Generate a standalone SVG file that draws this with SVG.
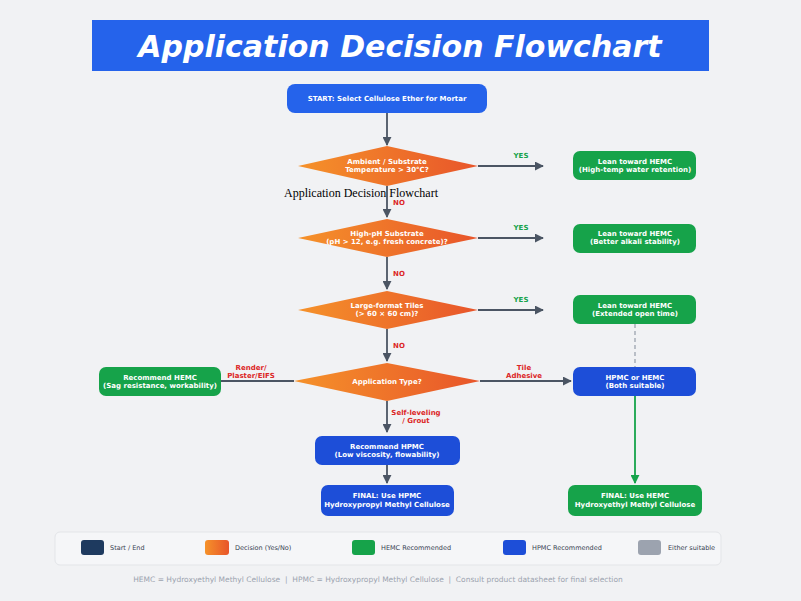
<svg xmlns="http://www.w3.org/2000/svg" width="801" height="601" viewBox="0 0 801 601">
<style>
text{font-family:"DejaVu Sans","Liberation Sans",sans-serif}
.nt{fill:#fff;font-size:7px;font-weight:bold;text-anchor:middle}
.g{fill:#16A34A}.b{fill:#1D4ED8}
.yes{fill:#16A34A;font-size:7px;font-weight:bold;text-anchor:middle}
.no{fill:#DC2626;font-size:7px;font-weight:bold;text-anchor:middle}
.ln{stroke:#4B5563;stroke-width:1.8;fill:none}
.lg{font-size:6.5px;fill:#374151}
</style>
<defs>
<linearGradient id="og" x1="0" x2="1"><stop offset="0" stop-color="#F5922A"/><stop offset="1" stop-color="#E8552A"/></linearGradient>
<marker id="ah" viewBox="0 0 10 10" refX="9" refY="5" markerWidth="5" markerHeight="5" orient="auto"><path d="M0,0L10,5L0,10z" fill="#4B5563"/></marker>
<marker id="ahg" viewBox="0 0 10 10" refX="9" refY="5" markerWidth="5" markerHeight="5" orient="auto"><path d="M0,0L10,5L0,10z" fill="#16A34A"/></marker>
</defs>
<rect width="801" height="601" fill="#F1F2F4"/>
<rect x="92" y="20" width="617" height="51" fill="#2563EB"/>
<text x="400" y="57" font-size="30" font-weight="bold" font-style="italic" fill="#fff" text-anchor="middle">Application Decision Flowchart</text>
<g id="connectors">
<path class="ln" d="M387,113V145" marker-end="url(#ah)"/>
<path class="ln" d="M387,186V217" marker-end="url(#ah)"/>
<path class="ln" d="M387,257V289" marker-end="url(#ah)"/>
<path class="ln" d="M387,329V361" marker-end="url(#ah)"/>
<path class="ln" d="M387,401V432" marker-end="url(#ah)"/>
<path class="ln" d="M387,465V483" marker-end="url(#ah)"/>
<path class="ln" d="M478,166H543" marker-end="url(#ah)"/>
<path class="ln" d="M478,238H543" marker-end="url(#ah)"/>
<path class="ln" d="M478,310H543" marker-end="url(#ah)"/>
<path class="ln" d="M294,381H208" marker-end="url(#ah)"/>
<path class="ln" d="M480,381H571" marker-end="url(#ah)"/>
<path d="M635,324V367" stroke="#9CA3AF" stroke-width="1.3" stroke-dasharray="4,3" fill="none"/>
<path d="M635,396V483" stroke="#16A34A" stroke-width="1.8" fill="none" marker-end="url(#ahg)"/>
<text class="yes" x="521" y="158">YES</text>
<text class="yes" x="521" y="230">YES</text>
<text class="yes" x="521" y="302">YES</text>
<text class="no" x="399" y="205">NO</text>
<text class="no" x="399" y="276">NO</text>
<text class="no" x="399" y="348">NO</text>
<text class="no" x="251" y="370">Render/</text>
<text class="no" x="251" y="378">Plaster/EIFS</text>
<text class="no" x="524" y="370">Tile</text>
<text class="no" x="524" y="378">Adhesive</text>
<text class="no" x="416" y="415">Self-leveling</text>
<text class="no" x="416" y="423">/ Grout</text>
</g>
<g id="start"><rect x="287" y="84" width="200" height="29" rx="8" fill="#2563EB"/><text class="nt" x="387" y="101">START: Select Cellulose Ether for Mortar</text></g>
<g id="d1"><polygon points="298,166 387,146 478,166 387,186" fill="url(#og)"/><text class="nt" x="387" y="164">Ambient / Substrate</text><text class="nt" x="387" y="172">Temperature &gt; 30°C?</text></g>
<g id="d2"><polygon points="298,238 387,219 478,238 387,257" fill="url(#og)"/><text class="nt" x="387" y="236">High-pH Substrate</text><text class="nt" x="387" y="244">(pH &gt; 12, e.g. fresh concrete)?</text></g>
<g id="d3"><polygon points="298,310 387,291 478,310 387,329" fill="url(#og)"/><text class="nt" x="387" y="308">Large-format Tiles</text><text class="nt" x="387" y="316">(&gt; 60 × 60 cm)?</text></g>
<g id="d4"><polygon points="294,381 387,363 480,381 387,401" fill="url(#og)"/><text class="nt" x="387" y="384">Application Type?</text></g>
<g id="h1"><rect class="g" x="573" y="151" width="123" height="29" rx="7"/><text class="nt" x="635" y="164">Lean toward HEMC</text><text class="nt" x="635" y="172">(High-temp water retention)</text></g>
<g id="h2"><rect class="g" x="573" y="224" width="123" height="29" rx="7"/><text class="nt" x="635" y="236">Lean toward HEMC</text><text class="nt" x="635" y="244">(Better alkali stability)</text></g>
<g id="h3"><rect class="g" x="573" y="295" width="123" height="29" rx="7"/><text class="nt" x="635" y="308">Lean toward HEMC</text><text class="nt" x="635" y="316">(Extended open time)</text></g>
<g id="rl"><rect class="g" x="99" y="367" width="122" height="29" rx="7"/><text class="nt" x="160" y="380">Recommend HEMC</text><text class="nt" x="160" y="388">(Sag resistance, workability)</text></g>
<g id="either"><rect class="b" x="573" y="367" width="123" height="29" rx="7"/><text class="nt" x="635" y="380">HPMC or HEMC</text><text class="nt" x="635" y="388">(Both suitable)</text></g>
<g id="rhpmc"><rect class="b" x="315" y="436" width="145" height="29" rx="7"/><text class="nt" x="387" y="449">Recommend HPMC</text><text class="nt" x="387" y="457">(Low viscosity, flowability)</text></g>
<g id="fhpmc"><rect class="b" x="321" y="485" width="133" height="31" rx="7"/><text class="nt" x="387" y="498">FINAL: Use HPMC</text><text class="nt" x="387" y="507">Hydroxypropyl Methyl Cellulose</text></g>
<g id="fhemc"><rect class="g" x="568" y="485" width="134" height="31" rx="7"/><text class="nt" x="635" y="498">FINAL: Use HEMC</text><text class="nt" x="635" y="507">Hydroxyethyl Methyl Cellulose</text></g>
<text x="284" y="197" style="font-family:'Liberation Serif',serif;font-size:12px" fill="#000">Application Decision Flowchart</text>
<g id="legend">
<rect x="55" y="532" width="666" height="33" rx="5" fill="#F5F6F8" stroke="#E3E5E8"/>
<rect x="81" y="540" width="23" height="15" rx="3" fill="#1E3A5F"/><text class="lg" x="110" y="550">Start / End</text>
<rect x="205" y="540" width="24" height="15" rx="3" fill="url(#og)"/><text class="lg" x="235" y="550">Decision (Yes/No)</text>
<rect x="352" y="540" width="23" height="15" rx="3" fill="#16A34A"/><text class="lg" x="381" y="550">HEMC Recommended</text>
<rect x="503" y="540" width="23" height="15" rx="3" fill="#1D4ED8"/><text class="lg" x="532" y="550">HPMC Recommended</text>
<rect x="638" y="540" width="23" height="15" rx="3" fill="#9CA3AF"/><text class="lg" x="668" y="550">Either suitable</text>
</g>
<text x="378" y="582" font-size="7.5" fill="#9CA3AF" text-anchor="middle" xml:space="preserve">HEMC = Hydroxyethyl Methyl Cellulose  |  HPMC = Hydroxypropyl Methyl Cellulose  |  Consult product datasheet for final selection</text>
</svg>
